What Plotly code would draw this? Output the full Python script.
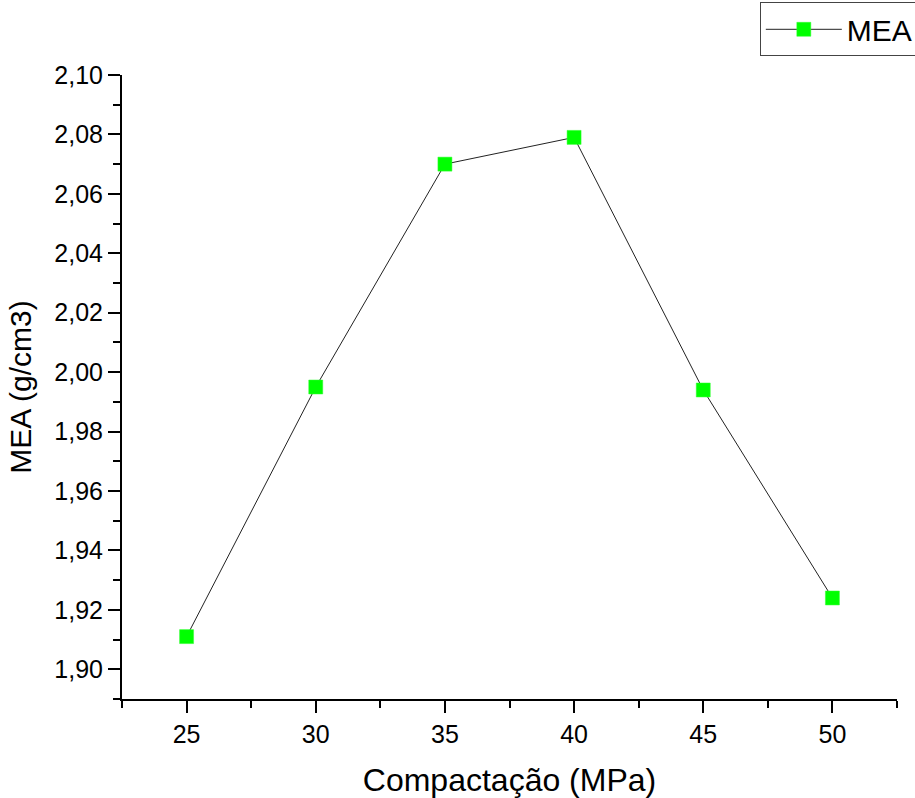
import plotly.graph_objects as go

compactacao = [25, 30, 35, 40, 45, 50]
mea = [1.911, 1.995, 2.070, 2.079, 1.994, 1.924]
series_name = "MEA"
x_title = "Compactação (MPa)"
y_title = "MEA (g/cm3)"

FONT = "Liberation Sans, Arial, sans-serif"

fig = go.Figure()
fig.add_trace(go.Scatter(
    x=compactacao, y=mea, name=series_name, mode="lines+markers",
    line=dict(color="#222222", width=1),
    marker=dict(symbol="square", size=14, color="#00FF00",
                line=dict(color="#33FF33", width=0.5)),
))

axis_common = dict(
    showline=True, linecolor="black", linewidth=2,
    ticks="outside", ticklen=12, tickwidth=2, tickcolor="black",
    showgrid=False, zeroline=False, mirror=False, automargin=False,
    tickfont=dict(family=FONT, size=25, color="black"),
)

fig.update_xaxes(
    range=[22.5, 52.5], tick0=25, dtick=5,
    minor=dict(ticks="outside", ticklen=7, tickwidth=2, tickcolor="black", dtick=2.5, tick0=22.5),
    title=dict(text=x_title, font=dict(family=FONT, size=32, color="black"), standoff=22),
    **axis_common,
)
fig.update_yaxes(
    range=[1.89, 2.10], tick0=1.90, dtick=0.02, tickformat=".2f",
    minor=dict(ticks="outside", ticklen=7, tickwidth=2, tickcolor="black", dtick=0.01, tick0=1.89),
    title=dict(text=y_title, font=dict(family=FONT, size=30, color="black"), standoff=14),
    **axis_common,
)

fig.update_layout(
    width=915, height=798,
    margin=dict(l=122, r=18, t=75, b=99, autoexpand=False),
    paper_bgcolor="white", plot_bgcolor="white",
    separators=",.",
    showlegend=True,
    legend=dict(
        x=0.823, y=1.1165, xanchor="left", yanchor="top",
        bordercolor="#444444", borderwidth=1, bgcolor="white",
        font=dict(family=FONT, size=30, color="black"),
        itemwidth=76,
    ),
)

fig.write_html("out.html")
